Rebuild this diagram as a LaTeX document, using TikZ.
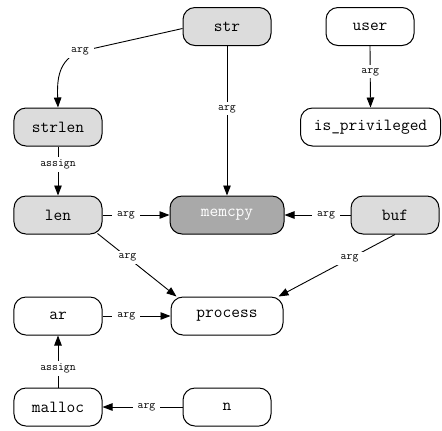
\documentclass[tikz,border=0pt]{standalone}
\usepackage{fontspec}
\usetikzlibrary{arrows.meta}
\definecolor{lightfill}{HTML}{DCDCDC}
\definecolor{darkfill}{HTML}{A9A9A9}
\tikzset{
  box/.style={draw=black, line width=1bp, rounded corners=12bp, minimum height=38bp,
    minimum width=88bp, inner sep=0pt, font=\ttfamily\fontsize{17}{19}\selectfont, fill=white},
  gbox/.style={box, fill=lightfill},
  dbox/.style={box, fill=darkfill, text=white},
  wbox/.style={box, minimum width=112bp},
  conn/.style={line width=0.9bp, -{Triangle[length=10bp,width=7.5bp]}},
  lbl/.style={fill=white, inner xsep=5bp, inner ysep=2.5bp, font=\ttfamily\fontsize{11.5}{12}\selectfont}
}
\begin{document}
\begin{tikzpicture}[x=1bp,y=-1bp]
\useasboundingbox (0,0) rectangle (442,430);
\node[gbox] (str) at (227,26.5) {str};
\node[box] (user) at (370,26.5) {user};
\node[gbox] (strlen) at (58,127) {strlen};
\node[box, minimum width=140bp] (isp) at (370.5,127) {is\_privileged};
\node[gbox] (len) at (58,215) {len};
\node[dbox, minimum width=114bp] (memcpy) at (227,215) {memcpy};
\node[gbox] (buf) at (395,215) {buf};
\node[box] (ar) at (58,316) {ar};
\node[wbox] (process) at (227,316) {process};
\node[box] (malloc) at (58,407) {malloc};
\node[box] (n) at (227,407) {n};
\coordinate (bend) at (80,51.5);
\draw[conn] ([yshift=-2bp]str.west) -- (bend) .. controls (58,60) and (57,80) .. (strlen.north);
\node[lbl] at (bend) {arg};
\draw[conn] (str.south) -- node[lbl, pos=0.42]{arg} (memcpy.north);
\draw[conn] (user.south) -- node[lbl, pos=0.42]{arg} (isp.north);
\draw[conn] (strlen.south) -- node[lbl, pos=0.37]{assign} (len.north);
\draw[conn] (len.east) -- node[lbl, pos=0.35]{arg} (memcpy.west);
\draw[conn] (buf.west) -- node[lbl, pos=0.37]{arg} (memcpy.east);
\draw[conn] ([xshift=-5bp,yshift=1bp]len.south east) -- node[lbl, pos=0.38]{arg} ([xshift=6bp]process.north west);
\draw[conn] (buf.south) -- node[lbl, pos=0.39]{arg} ([xshift=-5bp]process.north east);
\draw[conn] (ar.east) -- node[lbl, pos=0.35]{arg} (process.west);
\draw[conn] (malloc.north) -- node[lbl, pos=0.37]{assign} (ar.south);
\draw[conn] (n.west) -- node[lbl, pos=0.45]{arg} (malloc.east);
\end{tikzpicture}
\end{document}
